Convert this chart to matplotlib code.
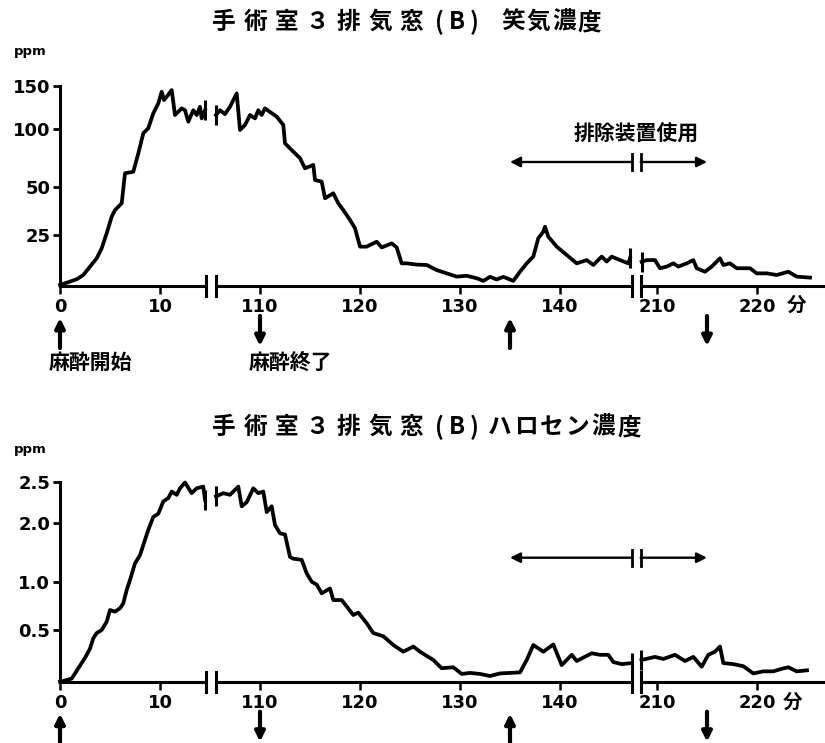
import numpy as np
import matplotlib
matplotlib.use("Agg")
import matplotlib.pyplot as plt

W, H = 825, 743
JP = ["Noto Sans CJK JP", "DejaVu Sans"]
NUM = "DejaVu Sans"

# ---------- data (minutes, values) ----------
n2o_t1 = [0, 0.67, 1.67, 2.33, 3.0, 3.67, 4.17, 4.67, 5.17, 5.5, 6.17, 6.5, 7.33, 7.83,
          8.33, 8.83, 9.33, 9.83, 10.17, 10.4, 10.67, 11.17, 11.5, 12.17, 12.5, 12.83,
          13.33, 13.67, 14.0, 14.17, 14.5]
n2o_v1 = [0.5, 1.6, 3.3, 5.4, 9.5, 13.6, 18.5, 25.9, 34.5, 37.9, 41.4, 61.7, 63, 79,
          96.5, 101.3, 118.5, 130, 143.4, 133.8, 137.6, 145.3, 116.5, 124.2, 122, 108.8,
          122, 116.5, 126, 112.6, 122]
n2o_t2 = [105.6, 106.0, 106.5, 107.0, 107.67, 108.0, 108.5, 109.0, 109.5, 109.83, 110.17,
          110.5, 111.0, 111.67, 112.33, 112.5, 113.33, 114.0, 114.5, 115.33, 115.5, 116.17,
          116.5, 117.33, 117.83, 118.33, 119.0, 119.5, 120.0, 120.67, 121.67, 122.17,
          123.17, 123.67, 124.17, 124.67, 125.67, 126.67, 127.67, 128.67, 129.67, 130.67,
          131.67, 132.33, 133.0, 133.67, 134.33, 135.33, 136.0, 136.67, 137.33, 137.83,
          138.33, 138.5, 138.83, 139.67, 140.67, 141.67, 142.67, 143.33, 144.17, 144.67,
          145.17, 146.0, 146.83, 147.0]
n2o_v2 = [116.5, 122, 117.5, 126, 141.5, 99.4, 105, 116.5, 112.6, 122, 116.5,
          124.2, 120, 114.6, 105, 87.8, 80.5, 74.9, 66, 69, 55.8, 54.4,
          44, 46.6, 41.4, 37.9, 32.8, 28.5, 19.3, 19.3, 21.7, 18.9,
          20.9, 18.9, 11.1, 11.1, 10.5, 10.3, 7.8, 6.2, 4.6, 5.0,
          3.8, 2.5, 4.5, 3.2, 4.5, 2.5, 7.0, 11.1, 14.4, 23.4,
          26.7, 29.3, 24.2, 19.3, 15.2, 11.1, 12.7, 10.3, 14.4, 12.0,
          14.4, 12.7, 11.1, 13.6]
n2o_t3 = [208.47, 208.97, 209.8, 210.3, 210.97, 211.63, 212.13, 212.97, 213.63, 213.97,
          214.8, 215.47, 216.3, 216.63, 217.3, 217.97, 218.63, 219.3, 219.97, 220.97,
          221.97, 223.13, 223.97, 225.3]
n2o_v3 = [11.9, 12.7, 12.7, 8.7, 9.5, 11.1, 9.5, 11.1, 12.7, 8.7,
          7.0, 9.5, 13.6, 10.3, 11.1, 8.7, 8.7, 8.7, 6.2, 6.2,
          5.4, 7.0, 4.6, 4.1]

hal_t1 = [0.0, 0.67, 1.17, 1.83, 2.5, 3.0, 3.33, 3.67, 4.17, 4.67, 5.0, 5.5, 6.0, 6.33,
          6.67, 7.0, 7.5, 8.0, 8.5, 8.83, 9.33, 9.83, 10.33, 10.83, 11.17, 11.67, 12.0,
          12.5, 13.17, 13.67, 14.33, 14.5]
hal_v1 = [0.0, 0.016, 0.03, 0.13, 0.23, 0.32, 0.42, 0.47, 0.5, 0.586, 0.707, 0.69, 0.725,
          0.776, 0.914, 1.03, 1.31, 1.45, 1.71, 1.88, 2.07, 2.11, 2.26, 2.30, 2.38, 2.34,
          2.42, 2.49, 2.36, 2.42, 2.44, 2.28]
hal_t2 = [105.6, 106.33, 107.0, 107.83, 108.17, 108.67, 109.33, 109.83, 110.33, 110.67,
          111.17, 111.5, 112.0, 112.5, 113.0, 113.33, 114.17, 114.67, 115.17, 115.67,
          116.17, 117.0, 117.33, 118.17, 119.33, 119.83, 120.67, 121.33, 122.33, 123.33,
          124.33, 125.33, 126.0, 127.33, 128.17, 129.33, 130.17, 131.0, 132.0, 133.0,
          134.0, 135.0, 136.0, 136.67, 137.33, 138.33, 139.33, 140.17, 141.17, 141.67,
          143.17, 144.0, 144.83, 145.33, 146.17, 147.17]
hal_v2 = [2.32, 2.36, 2.34, 2.44, 2.2, 2.25, 2.42, 2.36, 2.38, 2.13,
          2.2, 1.96, 1.82, 1.8, 1.42, 1.39, 1.37, 1.14, 1.0, 0.97,
          0.88, 0.93, 0.81, 0.81, 0.655, 0.68, 0.57, 0.47, 0.44, 0.355,
          0.29, 0.34, 0.29, 0.21, 0.13, 0.14, 0.075, 0.085, 0.075, 0.055,
          0.08, 0.085, 0.09, 0.21, 0.355, 0.29, 0.36, 0.16, 0.26, 0.2,
          0.275, 0.26, 0.26, 0.19, 0.17, 0.18]
hal_t3 = [208.45, 209.8, 210.63, 211.8, 212.8, 213.63, 214.47, 215.13, 215.8, 216.3,
          216.63, 217.63, 218.63, 219.63, 220.63, 221.63, 222.3, 223.13, 223.97, 225.0]
hal_v3 = [0.21, 0.24, 0.22, 0.26, 0.2, 0.24, 0.145, 0.26, 0.29, 0.34,
          0.18, 0.17, 0.15, 0.08, 0.1, 0.1, 0.12, 0.14, 0.1, 0.11]

x_ticks = [0, 10, 110, 120, 130, 140, 210, 220]
n2o_ticks = [25, 50, 100, 150]
n2o_ticklabels = ["25", "50", "100", "150"]
hal_ticks = [0.5, 1.0, 2.0, 2.5]
hal_ticklabels = ["0.5", "1.0", "2.0", "2.5"]

events_t = [0, 110, 135, 215]
events_dir = ["up", "down", "up", "down"]
device_on, device_off = 135, 215

# ---------- broken time axis ----------
t_knots = [0, 14.57, 105.6, 147.23, 208.37, 260]
p_knots = [0, 14.57, 15.6, 57.23, 58.07, 109.7]
breaks = [(14.57, 105.6), (147.23, 208.37)]


def fwd_x(t):
    return np.interp(t, t_knots, p_knots)


def inv_x(p):
    return np.interp(p, p_knots, t_knots)


def y_funcs(vals, hts):
    return (lambda v: np.interp(v, vals, hts), lambda h: np.interp(h, hts, vals))


def spaced(y, parts, size=17):
    for s, x0, x1 in parts:
        n = len(s)
        for i, ch in enumerate(s):
            x = x0 + (x1 - x0) * i / (n - 1)
            fig.text(x / W, 1 - y / H, ch, ha="center", va="center", fontsize=size,
                     fontweight="bold", family=JP)


def panel(ax, segs, yvals, yhts, ticks, ticklabels, labels_below):
    ax.set_xscale("function", functions=(fwd_x, inv_x))
    ax.set_yscale("function", functions=y_funcs(yvals, yhts))
    ax.set_xlim(0, 226.8)
    ax.set_ylim(0, ticks[-1])

    for t, v in segs:
        ax.plot(t, v, color="black", lw=2.7, clip_on=False, zorder=3)
    # break marks on the curve
    for (t, v), ends in zip(segs, [(-1,), (0, -1), (0,)]):
        for k in ends:
            ax.plot(t[k], v[k], marker="|", ms=15, mew=2.2, color="black", clip_on=False)

    for s in ["top", "right", "bottom"]:
        ax.spines[s].set_visible(False)
    ax.spines["left"].set_linewidth(2.2)
    ax.spines["left"].set_bounds(0, ticks[-1])

    xt = ax.get_xaxis_transform()
    edges = [0] + [b for br in breaks for b in br] + [226.8]
    for a, b in zip(edges[::2], edges[1::2]):
        ax.plot([a, b], [0, 0], color="black", lw=2.2, transform=xt, clip_on=False,
                solid_capstyle="butt")
    for br in breaks:
        for b in br:
            ax.plot([b, b], [-0.05, 0.05], color="black", lw=2.2, transform=xt, clip_on=False)

    ax.set_xticks(x_ticks)
    ax.set_xticklabels([str(v) for v in x_ticks])
    ax.set_yticks(ticks)
    ax.set_yticklabels(ticklabels)
    ax.minorticks_off()
    ax.tick_params(axis="x", direction="out", length=6, width=1.8, pad=2.5, labelsize=13)
    ax.tick_params(axis="y", direction="out", length=5, width=2, pad=2, labelsize=13)
    for lab in ax.get_xticklabels() + ax.get_yticklabels():
        lab.set_family(NUM)
        lab.set_fontweight("bold")

    # event arrows below the axis
    for t, d in zip(events_t, events_dir):
        tip, tail = (-0.16, -0.31) if d == "up" else (-0.30, -0.15)
        ax.annotate("", xy=(t, tip), xytext=(t, tail), xycoords=xt, textcoords=xt,
                    annotation_clip=False,
                    arrowprops=dict(arrowstyle="-|>", lw=3, color="black",
                                    mutation_scale=14, shrinkA=0, shrinkB=0))
    if labels_below:
        ax.text(3.0, -0.38, "麻酔開始", transform=xt, ha="center", va="center",
                fontsize=15, fontweight="bold", family=JP)
        ax.text(113.0, -0.38, "麻酔終了", transform=xt, ha="center", va="center",
                fontsize=15, fontweight="bold", family=JP)

    # exhaust device period
    ya = 0.62
    for a, b in [(breaks[1][0], device_on), (breaks[1][1], device_off)]:
        ax.annotate("", xy=(b, ya), xytext=(a, ya), xycoords=xt, textcoords=xt,
                    arrowprops=dict(arrowstyle="-|>", lw=1.7, color="black",
                                    mutation_scale=15, shrinkA=0, shrinkB=0))
        ax.plot([a, a], [ya - 0.04, ya + 0.04], color="black", lw=2, transform=xt)


fig = plt.figure(figsize=(W / 100, H / 100), dpi=100)
ax1 = fig.add_axes([60 / W, 1 - 286 / H, 765 / W, 200 / H])
ax2 = fig.add_axes([60 / W, 1 - 681.7 / H, 765 / W, 200 / H])

panel(ax1, [(n2o_t1, n2o_v1), (n2o_t2, n2o_v2), (n2o_t3, n2o_v3)],
      [0, 25, 50, 100, 150, 300], [0, 51, 99.3, 156.7, 200, 330],
      n2o_ticks, n2o_ticklabels, True)
panel(ax2, [(hal_t1, hal_v1), (hal_t2, hal_v2), (hal_t3, hal_v3)],
      [0, 0.5, 1.0, 2.0, 2.5, 5.0], [0, 51.7, 100, 159, 200, 330],
      hal_ticks, hal_ticklabels, False)

ax1.text(device_on / 2 + device_off / 2, 0.76, "排除装置使用", transform=ax1.get_xaxis_transform(),
         ha="center", va="center", fontsize=15, fontweight="bold", family=JP)

spaced(22, [("手術室３排気窓", 224, 411), ("(B)", 439, 474), ("笑気濃度", 513, 589)])
spaced(427, [("手術室３排気窓", 224, 411), ("(B)", 439, 474), ("ハロセン濃度", 500, 629)])

for y in (51, 449):
    fig.text(30 / W, 1 - y / H, "ppm", ha="center", va="center", fontsize=9.5,
             fontweight="bold", family=NUM)
for x, y in ((797, 305), (793, 702)):
    fig.text(x / W, 1 - y / H, "分", ha="center", va="center", fontsize=14,
             fontweight="bold", family=JP)

fig.savefig("out.png", dpi=100, facecolor="white")
